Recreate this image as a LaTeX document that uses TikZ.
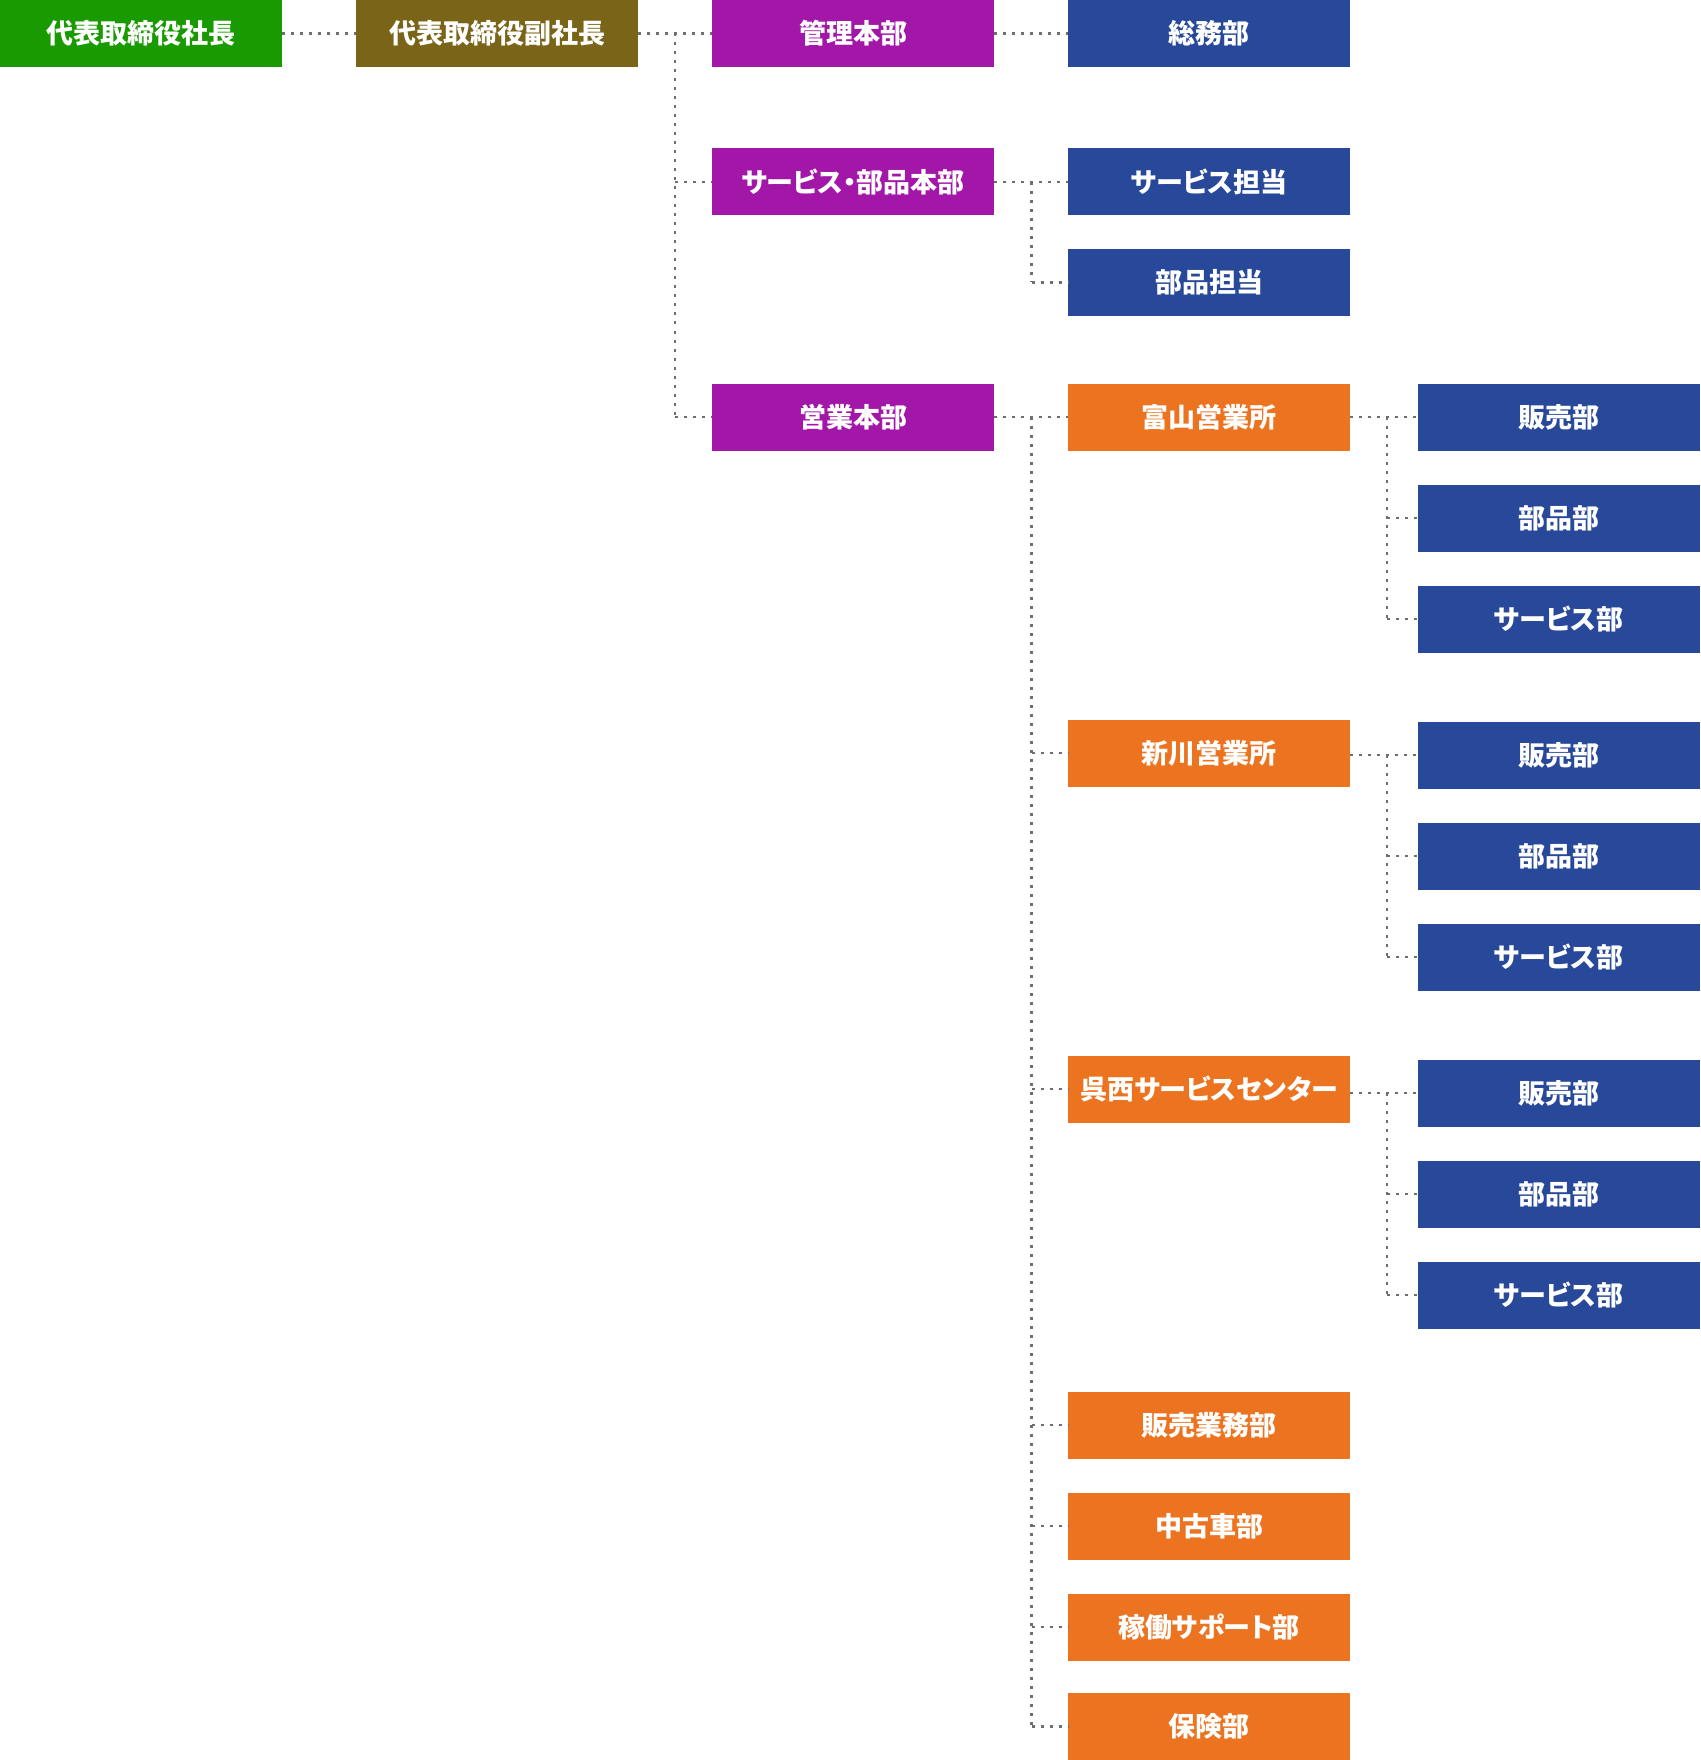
\documentclass[tikz,border=0pt]{standalone}
\usepackage{fontspec}
\newfontfamily\jp{Noto Sans CJK JP}[RawFeature=+palt]
\definecolor{cgreen}{HTML}{199A00}
\definecolor{colive}{HTML}{796417}
\definecolor{cpurple}{HTML}{A216A8}
\definecolor{cblue}{HTML}{284899}
\definecolor{corange}{HTML}{EC7421}
\definecolor{cline}{HTML}{6E6E6E}
\tikzset{
  orgbox/.style={rectangle, minimum width=282pt, minimum height=67pt, inner sep=0pt,
    text=white, font=\jp\bfseries\fontsize{27pt}{31pt}\selectfont},
  gbox/.style={orgbox, fill=cgreen},
  obox/.style={orgbox, fill=colive},
  pbox/.style={orgbox, fill=cpurple},
  bbox/.style={orgbox, fill=cblue},
  rbox/.style={orgbox, fill=corange},
  conn/.style={draw=cline, line width=2.4pt, dash pattern=on 3pt off 6pt}
}
\begin{document}
\begin{tikzpicture}[x=1pt,y=-1pt]
\useasboundingbox (0,0) rectangle (1700,1760);
% column 1-2
\node[gbox] (ceo) at (141,33.5) {代表取締役社長};
\node[obox] (vp) at (497,33.5) {代表取締役副社長};
% column 3
\node[pbox] (kanri) at (853,33.5) {管理本部};
\node[pbox] (svhq) at (853,182) {サービス・部品本部};
\node[pbox] (eigyo) at (853,417) {営業本部};
% column 4
\node[bbox] (somu) at (1209,33.5) {総務部};
\node[bbox] (svtan) at (1209,182) {サービス担当};
\node[bbox] (butan) at (1209,282.5) {部品担当};
\node[rbox] (toyama) at (1209,417) {富山営業所};
\node[rbox] (shin) at (1209,753) {新川営業所};
\node[rbox] (gosei) at (1209,1089) {呉西サービスセンター};
\node[rbox] (hgyomu) at (1209,1425) {販売業務部};
\node[rbox] (chuko) at (1209,1526) {中古車部};
\node[rbox] (kado) at (1209,1627) {稼働サポート部};
\node[rbox] (hoken) at (1209,1726.5) {保険部};
% column 5
\node[bbox] (ta) at (1558.5,417) {販売部};
\node[bbox] (tb) at (1558.5,518) {部品部};
\node[bbox] (tc) at (1558.5,619) {サービス部};
\node[bbox] (sa) at (1558.5,755) {販売部};
\node[bbox] (sb) at (1558.5,856) {部品部};
\node[bbox] (sc) at (1558.5,957) {サービス部};
\node[bbox] (ga) at (1558.5,1093) {販売部};
\node[bbox] (gb) at (1558.5,1194) {部品部};
\node[bbox] (gc) at (1558.5,1295) {サービス部};
% bus coordinates
\coordinate (b2) at (675,0);
\coordinate (b3) at (1031.5,0);
\coordinate (b4) at (1387,0);
% connectors
\draw[conn] (ceo.east) -- (vp.west);
\draw[conn] (vp.east) -- (kanri.west);
\draw[conn] (b2 |- kanri.west) -- (b2 |- eigyo.west);
\draw[conn] (b2 |- svhq.west) -- (svhq.west);
\draw[conn] (b2 |- eigyo.west) -- (eigyo.west);
\draw[conn] (kanri.east) -- (somu.west);
\draw[conn] (svhq.east |- svtan.west) -- (svtan.west);
\draw[conn] (b3 |- svtan.west) -- (b3 |- butan.west);
\draw[conn] (b3 |- butan.west) -- (butan.west);
\draw[conn] (eigyo.east |- toyama.west) -- (toyama.west);
\draw[conn] (b3 |- toyama.west) -- (b3 |- hoken.west);
\foreach \n in {shin,gosei,hgyomu,chuko,kado,hoken}{
  \draw[conn] (b3 |- \n.west) -- (\n.west);
}
\draw[conn] (toyama.east |- ta.west) -- (ta.west);
\draw[conn] (b4 |- ta.west) -- (b4 |- tc.west);
\draw[conn] (b4 |- tb.west) -- (tb.west);
\draw[conn] (b4 |- tc.west) -- (tc.west);
\draw[conn] (shin.east |- sa.west) -- (sa.west);
\draw[conn] (b4 |- sa.west) -- (b4 |- sc.west);
\draw[conn] (b4 |- sb.west) -- (sb.west);
\draw[conn] (b4 |- sc.west) -- (sc.west);
\draw[conn] (gosei.east |- ga.west) -- (ga.west);
\draw[conn] (b4 |- ga.west) -- (b4 |- gc.west);
\draw[conn] (b4 |- gb.west) -- (gb.west);
\draw[conn] (b4 |- gc.west) -- (gc.west);
\end{tikzpicture}
\end{document}
